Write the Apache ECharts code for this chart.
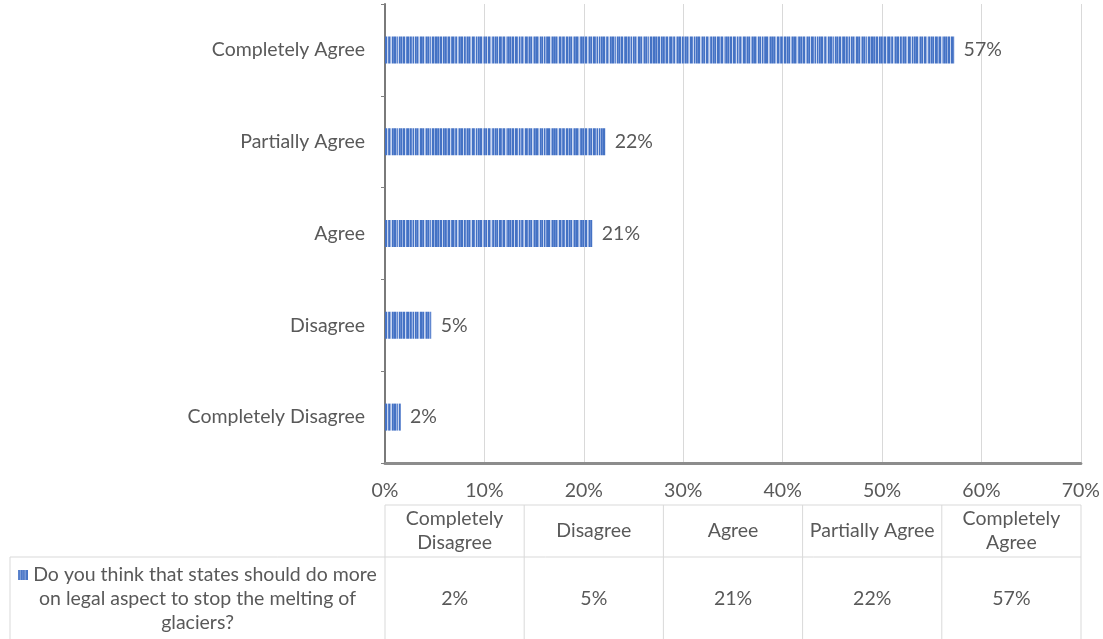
<!DOCTYPE html>
<html><head><meta charset="utf-8">
<script src="https://cdn.jsdelivr.net/npm/echarts@6/dist/echarts.min.js"></script>
<style>html,body{margin:0;padding:0;background:#fff}#c{width:1103px;height:639px}</style>
</head><body><div id="c"></div>
<script>
const categories = ['Completely Disagree','Disagree','Agree','Partially Agree','Completely Agree'];
const values = [1.6, 4.7, 20.9, 22.2, 57.3];
const valueLabels = ['2%','5%','21%','22%','57%'];
const tableHeaders = ['Completely\nDisagree','Disagree','Agree','Partially Agree','Completely\nAgree'];
const seriesName = 'Do you think that states should do more\non legal aspect to stop the melting of\nglaciers?';
const xTicks = ['0%','10%','20%','30%','40%','50%','60%','70%'];

// irregular striped texture (fixed style sequence)
const shades = '0102003010120031002103201003012010230013020100320103002310201030012003210102003001302102300120103201002301030210' +
               '0032010102300210130020103201002310102003201030012030201003102301002130102003100201203010230010320102130020';
const palette = ['#4472C4','#6288D0','#9AB2E2','#CAD7F0'];
const pc = document.createElement('canvas');
pc.width = shades.length; pc.height = 4;
const px = pc.getContext('2d');
for (let i = 0; i < shades.length; i++) { px.fillStyle = palette[+shades[i]]; px.fillRect(i, 0, 1, 4); }
const pattern = { image: pc, repeat: 'repeat' };

const FONT = 'Lato';
const FS = 19.5;
const TXT = '#595959';
const W = 1103, H = 639;
const gL = 385, gR = 1081, gT = 4, gB = 463;
const colW = (gR - gL) / 5;
const tTop = 505, tMid = 557, tBot = 639, tLeft = 10;
const lineC = '#d9d9d9';

const graphics = [];
function ln(x1,y1,x2,y2){ graphics.push({type:'line',shape:{x1,y1,x2,y2},style:{stroke:lineC,lineWidth:1},silent:true}); }
ln(gL, tTop, gR, tTop);
ln(tLeft, tMid, gR, tMid);
ln(tLeft, tMid, tLeft, tBot);
for (let i = 0; i <= 5; i++) ln(gL + i*colW, tTop, gL + i*colW, tBot);
tableHeaders.forEach((h, i) => {
  graphics.push({type:'text', x: gL + (i+0.5)*colW, y: (tTop+tMid)/2, silent:true,
    style:{text:h, fill:TXT, font:`${FS}px ${FONT}`, align:'center', verticalAlign:'middle', lineHeight:24}});
});
valueLabels.forEach((v, i) => {
  graphics.push({type:'text', x: gL + (i+0.5)*colW, y: 599, silent:true,
    style:{text:v, fill:TXT, font:`${FS}px ${FONT}`, align:'center', verticalAlign:'middle'}});
});
graphics.push({type:'text', x:(tLeft+gL)/2, y:599, silent:true,
  style:{text:'{k|} ' + seriesName.split('\n')[0] + '\n' + seriesName.split('\n').slice(1).join('\n'),
    fill:TXT, font:`${FS}px ${FONT}`, align:'center', verticalAlign:'middle', lineHeight:24,
    rich:{k:{width:10,height:10,backgroundColor:pattern}}}});

const chart = echarts.init(document.getElementById('c'), null, {renderer:'canvas', width:W, height:H});
chart.setOption({
  animation:false,
  backgroundColor:'#fff',
  textStyle:{fontFamily:FONT},
  grid:{left:gL, right:W-gR, top:gT, bottom:H-gB, containLabel:false},
  xAxis:{type:'value', min:0, max:70, interval:10,
    axisLine:{show:true, lineStyle:{color:'#8c8c8c', width:3}},
    axisTick:{show:false},
    axisLabel:{color:TXT, fontSize:FS, fontFamily:FONT, margin:18, formatter:(v)=>xTicks[Math.round(v/10)]},
    splitLine:{show:true, lineStyle:{color:'#d9d9d9', width:1}}},
  yAxis:{type:'category', data:categories,
    axisLine:{show:true, lineStyle:{color:'#7a7a7a', width:2}},
    axisTick:{show:true, length:4, lineStyle:{color:'#808080'}},
    axisLabel:{color:TXT, fontSize:FS, fontFamily:FONT, margin:20}},
  series:[{type:'bar', name:seriesName, data:values, barWidth:27,
    itemStyle:{color:pattern},
    label:{show:true, position:'right', distance:9, color:TXT, fontSize:FS, fontFamily:FONT,
      formatter:(p)=>valueLabels[p.dataIndex]}}],
  graphic:graphics
});
</script></body></html>
